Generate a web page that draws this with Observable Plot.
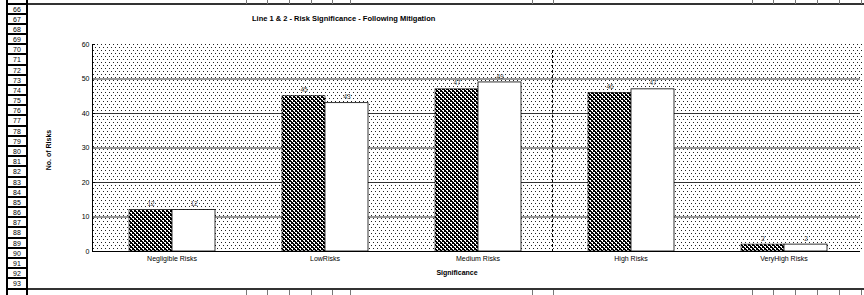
<!DOCTYPE html>
<html>
<head>
<meta charset="utf-8">
<script src="https://cdn.jsdelivr.net/npm/d3@7"></script>
<script src="https://cdn.jsdelivr.net/npm/@observablehq/plot@0.6"></script>
<style>
  html, body { margin: 0; padding: 0; background: #fff; }
  #wrap { position: relative; width: 864px; height: 295px; overflow: hidden; font-family: "Liberation Sans", Arial, sans-serif; }
  .abs { position: absolute; }
  .row { position: absolute; left: 6px; width: 18px; border-left: 2px solid #000; border-right: 2px solid #000; border-bottom: 2px solid #000; background: #fff; font-size: 7px; text-align: center; box-sizing: content-box; color: #000; }
  .coltick { position: absolute; width: 1px; background: #777; }
  #plotbg { position: absolute; left: 93px; top: 44px; width: 769px; height: 207px;
    background-image: url("data:image/svg+xml;utf8,<svg xmlns='http://www.w3.org/2000/svg' width='4' height='6'><rect x='0' y='0' width='1' height='1' fill='%23222'/><rect x='2' y='3' width='1' height='1' fill='%23222'/></svg>");
    background-repeat: repeat; }
  #chart { position: absolute; left: 0; top: 0; }
  .txt { position: absolute; white-space: nowrap; color: #000; }
</style>
</head>
<body>
<div id="wrap">
  <div id="rows"></div>
  <div class="abs" style="left:28px; top:3px; width:836px; height:2px; background:#333;"></div>
  <div class="abs" style="left:28px; top:288px; width:836px; height:2px; background:#333;"></div>
  <div id="ticks"></div>
  <div id="plotbg"></div>
  <div class="abs" style="left:552px; top:50px; height:202px; border-left:1px dashed #000;"></div>
  <div class="abs" style="left:92px; top:44px; width:1px; height:208px; background:#000;"></div>
  <div id="chart"></div>
  <div class="txt" style="left:252px; top:14px; font-size:7.5px; font-weight:bold;">Line 1 &amp; 2 - Risk Significance - Following Mitigation</div>
  <div class="txt" style="left:48px; top:150px; font-size:7px; font-weight:bold; transform: translate(-50%,-50%) rotate(-90deg);">No. of Risks</div>
  <div class="txt" style="left:457px; top:272px; font-size:7px; font-weight:bold; transform: translate(-50%,-50%);">Significance</div>
</div>
<script>
const categories = ["Negligible Risks", "LowRisks", "Medium Risks", "High Risks", "VeryHigh Risks"];
const seriesNames = ["Line 1", "Line 2"];
const line1 = [12, 45, 47, 46, 2];
const line2 = [12, 43, 49, 47, 2];
const yTicks = [0, 10, 20, 30, 40, 50, 60];
const rowNumbers = d3.range(65, 95);
const colTickXs = [246, 267, 289, 311, 332, 350, 532, 553, 752, 773, 795, 817, 839, 861];

// Excel row headers (decoration); partial rows at the edges get no text
const rows = document.getElementById("rows");
rowNumbers.forEach((n) => {
  const top = 4.5 + (n - 66) * 10.18;
  const d = document.createElement("div");
  d.className = "row";
  d.style.top = top + "px";
  d.style.height = "8.2px";
  d.style.lineHeight = "9px";
  if (n >= 66 && n <= 93) d.textContent = n;
  rows.appendChild(d);
});
const ticks = document.getElementById("ticks");
colTickXs.forEach(x => {
  for (const [t, h] of [[0, 4], [290, 5]]) {
    const d = document.createElement("div");
    d.className = "coltick";
    d.style.left = x + "px"; d.style.top = t + "px"; d.style.height = h + "px";
    ticks.appendChild(d);
  }
});

const data1 = categories.map((c, i) => ({category: c, series: seriesNames[0], value: line1[i]}));
const data2 = categories.map((c, i) => ({category: c, series: seriesNames[1], value: line2[i]}));
const all = data1.concat(data2);

const chart = Plot.plot({
  width: 864,
  height: 295,
  marginLeft: 93,
  marginRight: 2,
  marginTop: 44,
  marginBottom: 44,
  style: {fontFamily: "'Liberation Sans', Arial, sans-serif", fontSize: "7px", background: "transparent", color: "#000", overflow: "visible"},
  fx: {domain: categories, padding: 0, label: null, axis: "bottom", tickSize: 0, tickPadding: 5},
  x: {domain: seriesNames, paddingInner: 0, paddingOuter: 0.768, axis: null},
  y: {domain: [0, 60], ticks: yTicks, tickSize: 3, tickPadding: 3, label: null},
  marks: [
    Plot.ruleY(yTicks.filter(t => t > 0 && t < 60), {stroke: "#333", strokeWidth: 1}),
    Plot.barY(data1, {fx: "category", x: "series", y: "value", fill: "url(#hatch)", stroke: "#000", strokeWidth: 0.6}),
    Plot.barY(data2, {fx: "category", x: "series", y: "value", fill: "#fff", stroke: "#000", strokeWidth: 0.8}),
    Plot.text(all, {fx: "category", x: "series", y: "value", text: d => String(d.value), dy: -6, fill: "#444", fontSize: 6.5}),
    Plot.ruleY([0], {stroke: "#000", strokeWidth: 1})
  ]
});
chart.insertAdjacentHTML("afterbegin",
  `<defs><pattern id="hatch" patternUnits="userSpaceOnUse" width="4" height="4">
     <rect width="4" height="4" fill="#000"/>
     <rect x="0" y="0" width="1" height="1" fill="#fff"/>
     <rect x="1" y="1" width="1" height="1" fill="#fff"/>
     <rect x="2" y="2" width="1" height="1" fill="#fff"/>
     <rect x="3" y="3" width="1" height="1" fill="#fff"/>
     <rect x="1" y="0" width="1" height="1" fill="#fff"/>
     <rect x="3" y="2" width="1" height="1" fill="#fff"/>
   </pattern></defs>`);
document.getElementById("chart").appendChild(chart);
</script>
</body>
</html>
